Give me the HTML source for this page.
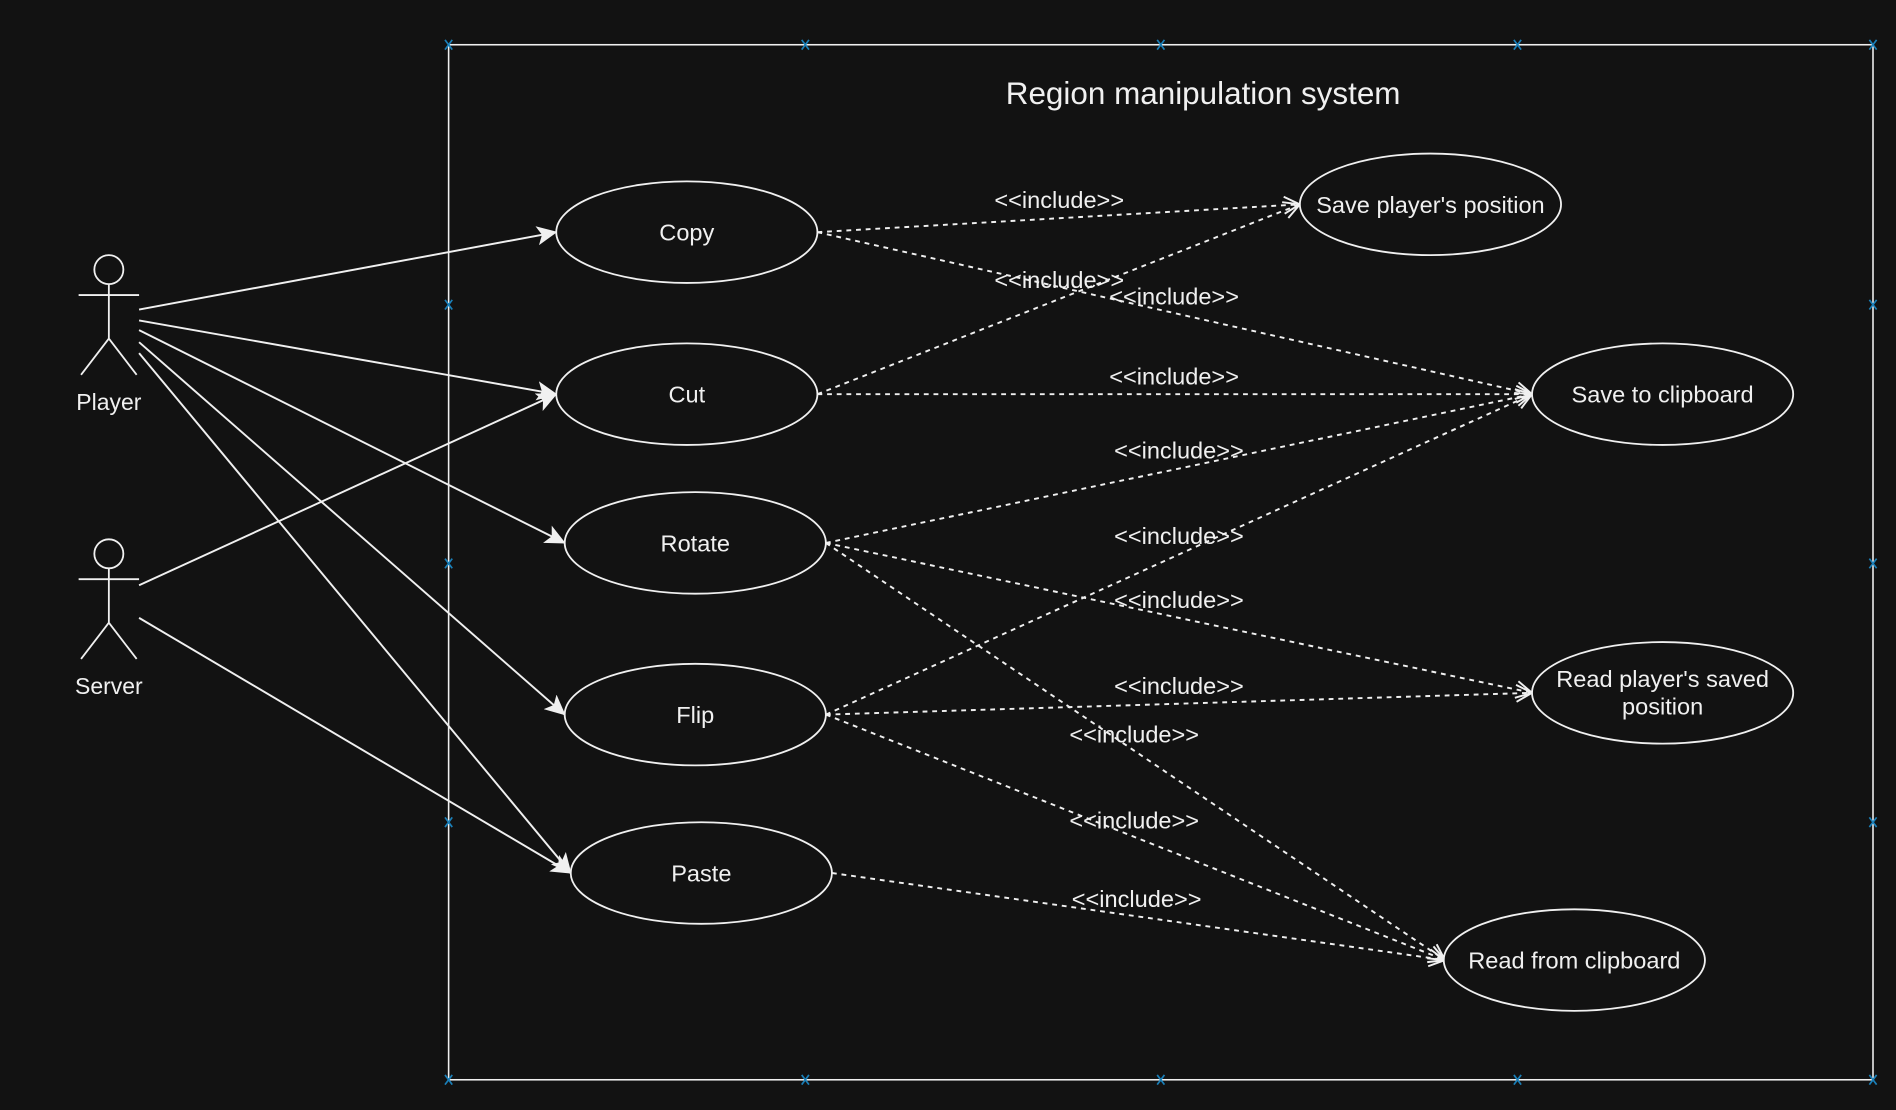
<!DOCTYPE html>
<html><head><style>
html,body{margin:0;padding:0;background:#121212;}
svg{display:block;}
text{font-family:"Liberation Sans",sans-serif;fill:#f0f0f0;}
</style></head><body>
<svg width="1896" height="1110" viewBox="0 0 1568 918" xmlns="http://www.w3.org/2000/svg">
<defs>
<marker id="sa" markerWidth="18" markerHeight="16" refX="16" refY="8" orient="auto" markerUnits="userSpaceOnUse">
<path d="M0,0 L17,8 L0,16 L4,8 Z" fill="#f0f0f0"/></marker>
<marker id="oa" markerWidth="16" markerHeight="16" refX="14" refY="8" orient="auto" markerUnits="userSpaceOnUse">
<path d="M1,1 L14,8 L1,15" fill="none" stroke="#f0f0f0" stroke-width="1.6"/></marker>
</defs>
<rect width="1568" height="918" fill="#121212"/>
<rect x="371" y="37" width="1178" height="856" fill="none" stroke="#f0f0f0" stroke-width="1.3"/>
<g stroke="#1a7fb8" stroke-width="1.4">
<path d="M368,33l6,8M374,33l-6,8 M663,33l6,8M669,33l-6,8 M957,33l6,8M963,33l-6,8 M1252,33l6,8M1258,33l-6,8 M1546,33l6,8M1552,33l-6,8
M368,889l6,8M374,889l-6,8 M663,889l6,8M669,889l-6,8 M957,889l6,8M963,889l-6,8 M1252,889l6,8M1258,889l-6,8 M1546,889l6,8M1552,889l-6,8
M368,248l6,8M374,248l-6,8 M368,462l6,8M374,462l-6,8 M368,676l6,8M374,676l-6,8
M1546,248l6,8M1552,248l-6,8 M1546,462l6,8M1552,462l-6,8 M1546,676l6,8M1552,676l-6,8"/>
</g>
<text x="995" y="86" font-size="26" text-anchor="middle">Region manipulation system</text>
<g stroke="#f0f0f0" stroke-width="1.5" fill="none">
<circle cx="90" cy="223" r="12"/><path d="M90,235V280M65,244H115M90,280L67,310M90,280L113,310"/>
<circle cx="90" cy="458" r="12"/><path d="M90,470V515M65,479H115M90,515L67,545M90,515L113,545"/>
</g>
<text x="90" y="339" font-size="19" text-anchor="middle">Player</text>
<text x="90" y="574" font-size="19" text-anchor="middle">Server</text>
<g stroke="#f0f0f0" stroke-width="1.6" fill="none" marker-end="url(#sa)">
<path d="M115,256L460,192"/><path d="M115,265L460,326"/><path d="M115,273L467,449"/>
<path d="M115,283L467,591"/><path d="M115,292L472,722"/><path d="M115,484L460,326"/><path d="M115,511L472,722"/>
</g>
<g stroke="#f0f0f0" stroke-width="1.6" fill="none" stroke-dasharray="4,4" marker-end="url(#oa)">
<path d="M676,192L1075,169"/><path d="M676,192L1267,326"/>
<path d="M676,326L1075,169"/><path d="M676,326L1267,326"/>
<path d="M683,449L1267,326"/><path d="M683,449L1267,573"/><path d="M683,449L1195,794"/>
<path d="M683,591L1267,326"/><path d="M683,591L1267,573"/><path d="M683,591L1195,794"/>
<path d="M688,722L1195,794"/>
</g>
<g stroke="#f0f0f0" stroke-width="1.5" fill="#121212">
<ellipse cx="568" cy="192" rx="108" ry="42"/><ellipse cx="568" cy="326" rx="108" ry="42"/>
<ellipse cx="575" cy="449" rx="108" ry="42"/><ellipse cx="575" cy="591" rx="108" ry="42"/>
<ellipse cx="580" cy="722" rx="108" ry="42"/>
<ellipse cx="1183" cy="169" rx="108" ry="42"/><ellipse cx="1375" cy="326" rx="108" ry="42"/>
<ellipse cx="1375" cy="573" rx="108" ry="42"/><ellipse cx="1302" cy="794" rx="108" ry="42"/>
</g>
<g font-size="19.5" text-anchor="middle">
<text x="568" y="199">Copy</text><text x="568" y="333">Cut</text><text x="575" y="456">Rotate</text>
<text x="575" y="598">Flip</text><text x="580" y="729">Paste</text>
<text x="1183" y="176">Save player's position</text><text x="1375" y="333">Save to clipboard</text>
<text x="1375" y="568">Read player's saved</text><text x="1375" y="591">position</text>
<text x="1302" y="801">Read from clipboard</text>
</g>
<g font-size="19.5" text-anchor="middle">
<text x="876" y="172">&lt;&lt;include&gt;&gt;</text><text x="876" y="238">&lt;&lt;include&gt;&gt;</text>
<text x="971" y="252">&lt;&lt;include&gt;&gt;</text><text x="971" y="318">&lt;&lt;include&gt;&gt;</text>
<text x="975" y="379">&lt;&lt;include&gt;&gt;</text><text x="975" y="450">&lt;&lt;include&gt;&gt;</text>
<text x="975" y="503">&lt;&lt;include&gt;&gt;</text><text x="975" y="574">&lt;&lt;include&gt;&gt;</text>
<text x="938" y="614">&lt;&lt;include&gt;&gt;</text><text x="938" y="685">&lt;&lt;include&gt;&gt;</text>
<text x="940" y="750">&lt;&lt;include&gt;&gt;</text>
</g>
</svg>
</body></html>
